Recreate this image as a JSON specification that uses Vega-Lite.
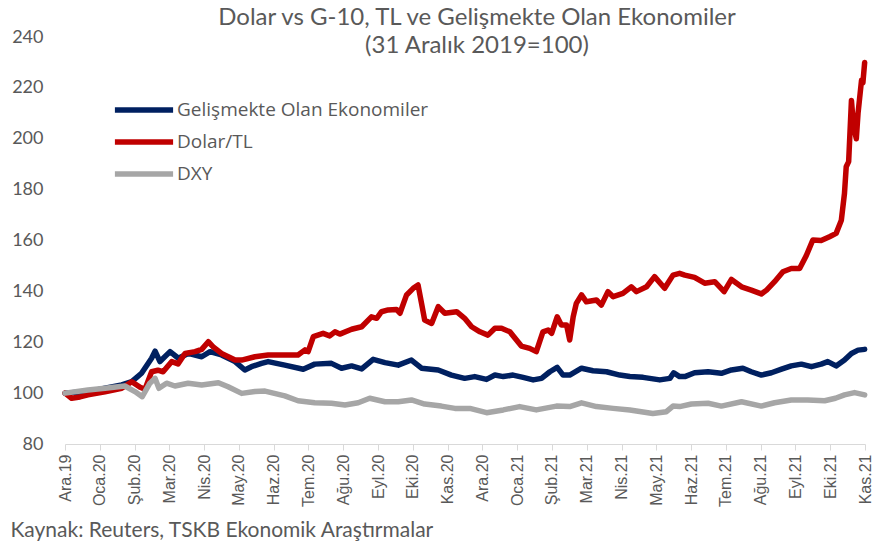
{
  "$schema": "https://vega.github.io/schema/vega-lite/v6.json",
  "width": 800,
  "height": 407,
  "autosize": {"type": "none"},
  "padding": {"left": 65, "top": 37, "right": 23, "bottom": 101},
  "background": "white",
  "config": {"view": {"stroke": null}, "font": "Lato"},
  "title": {
    "text": ["Dolar vs G-10, TL ve Gelişmekte Olan Ekonomiler", "(31 Aralık 2019=100)"],
    "font": "Lato",
    "fontSize": 24,
    "fontWeight": "normal",
    "color": "#595959",
    "anchor": "middle",
    "frame": "group",
    "lineHeight": 28,
    "dx": 12,
    "offset": -30
  },
  "datasets": {
    "rows": [
      {"s": "Gelişmekte Olan Ekonomiler", "t": 0, "v": 100},
      {"s": "Gelişmekte Olan Ekonomiler", "t": 0.66, "v": 100.6},
      {"s": "Gelişmekte Olan Ekonomiler", "t": 1.15, "v": 101.9},
      {"s": "Gelişmekte Olan Ekonomiler", "t": 1.63, "v": 103.2},
      {"s": "Gelişmekte Olan Ekonomiler", "t": 1.92, "v": 104.5},
      {"s": "Gelişmekte Olan Ekonomiler", "t": 2.2, "v": 107.8},
      {"s": "Gelişmekte Olan Ekonomiler", "t": 2.49, "v": 113.7},
      {"s": "Gelişmekte Olan Ekonomiler", "t": 2.59, "v": 116.5},
      {"s": "Gelişmekte Olan Ekonomiler", "t": 2.73, "v": 112.4},
      {"s": "Gelişmekte Olan Ekonomiler", "t": 3.02, "v": 116.3},
      {"s": "Gelişmekte Olan Ekonomiler", "t": 3.26, "v": 113.7},
      {"s": "Gelişmekte Olan Ekonomiler", "t": 3.54, "v": 115.6},
      {"s": "Gelişmekte Olan Ekonomiler", "t": 3.93, "v": 114.3},
      {"s": "Gelişmekte Olan Ekonomiler", "t": 4.17, "v": 116.3},
      {"s": "Gelişmekte Olan Ekonomiler", "t": 4.5, "v": 115},
      {"s": "Gelişmekte Olan Ekonomiler", "t": 4.89, "v": 112.4},
      {"s": "Gelişmekte Olan Ekonomiler", "t": 5.17, "v": 109.1},
      {"s": "Gelişmekte Olan Ekonomiler", "t": 5.36, "v": 110.4},
      {"s": "Gelişmekte Olan Ekonomiler", "t": 5.65, "v": 111.7},
      {"s": "Gelişmekte Olan Ekonomiler", "t": 5.84, "v": 112.4},
      {"s": "Gelişmekte Olan Ekonomiler", "t": 6.32, "v": 111},
      {"s": "Gelişmekte Olan Ekonomiler", "t": 6.85, "v": 109.4},
      {"s": "Gelişmekte Olan Ekonomiler", "t": 7.18, "v": 111.4},
      {"s": "Gelişmekte Olan Ekonomiler", "t": 7.66, "v": 111.7},
      {"s": "Gelişmekte Olan Ekonomiler", "t": 7.95, "v": 109.8},
      {"s": "Gelişmekte Olan Ekonomiler", "t": 8.24, "v": 110.7},
      {"s": "Gelişmekte Olan Ekonomiler", "t": 8.53, "v": 109.5},
      {"s": "Gelişmekte Olan Ekonomiler", "t": 8.86, "v": 113.3},
      {"s": "Gelişmekte Olan Ekonomiler", "t": 9.2, "v": 112},
      {"s": "Gelişmekte Olan Ekonomiler", "t": 9.58, "v": 111},
      {"s": "Gelişmekte Olan Ekonomiler", "t": 9.96, "v": 113},
      {"s": "Gelişmekte Olan Ekonomiler", "t": 10.25, "v": 109.8},
      {"s": "Gelişmekte Olan Ekonomiler", "t": 10.73, "v": 109.1},
      {"s": "Gelişmekte Olan Ekonomiler", "t": 11.11, "v": 107.1},
      {"s": "Gelişmekte Olan Ekonomiler", "t": 11.49, "v": 105.8},
      {"s": "Gelişmekte Olan Ekonomiler", "t": 11.78, "v": 106.5},
      {"s": "Gelişmekte Olan Ekonomiler", "t": 12.12, "v": 105.4},
      {"s": "Gelişmekte Olan Ekonomiler", "t": 12.36, "v": 107.1},
      {"s": "Gelişmekte Olan Ekonomiler", "t": 12.6, "v": 106.5},
      {"s": "Gelişmekte Olan Ekonomiler", "t": 12.88, "v": 107.1},
      {"s": "Gelişmekte Olan Ekonomiler", "t": 13.17, "v": 106.2},
      {"s": "Gelişmekte Olan Ekonomiler", "t": 13.46, "v": 105.2},
      {"s": "Gelişmekte Olan Ekonomiler", "t": 13.7, "v": 105.8},
      {"s": "Gelişmekte Olan Ekonomiler", "t": 13.94, "v": 108.4},
      {"s": "Gelişmekte Olan Ekonomiler", "t": 14.15, "v": 110.1},
      {"s": "Gelişmekte Olan Ekonomiler", "t": 14.32, "v": 107.1},
      {"s": "Gelişmekte Olan Ekonomiler", "t": 14.51, "v": 107.1},
      {"s": "Gelişmekte Olan Ekonomiler", "t": 14.85, "v": 109.8},
      {"s": "Gelişmekte Olan Ekonomiler", "t": 15.18, "v": 108.8},
      {"s": "Gelişmekte Olan Ekonomiler", "t": 15.57, "v": 108.4},
      {"s": "Gelişmekte Olan Ekonomiler", "t": 15.95, "v": 107.1},
      {"s": "Gelişmekte Olan Ekonomiler", "t": 16.24, "v": 106.5},
      {"s": "Gelişmekte Olan Ekonomiler", "t": 16.62, "v": 106.2},
      {"s": "Gelişmekte Olan Ekonomiler", "t": 17.1, "v": 105.2},
      {"s": "Gelişmekte Olan Ekonomiler", "t": 17.39, "v": 105.8},
      {"s": "Gelişmekte Olan Ekonomiler", "t": 17.5, "v": 108},
      {"s": "Gelişmekte Olan Ekonomiler", "t": 17.67, "v": 106.5},
      {"s": "Gelişmekte Olan Ekonomiler", "t": 17.82, "v": 106.5},
      {"s": "Gelişmekte Olan Ekonomiler", "t": 18.1, "v": 108},
      {"s": "Gelişmekte Olan Ekonomiler", "t": 18.49, "v": 108.4},
      {"s": "Gelişmekte Olan Ekonomiler", "t": 18.87, "v": 107.8},
      {"s": "Gelişmekte Olan Ekonomiler", "t": 19.16, "v": 109.1},
      {"s": "Gelişmekte Olan Ekonomiler", "t": 19.49, "v": 109.8},
      {"s": "Gelişmekte Olan Ekonomiler", "t": 19.73, "v": 108.4},
      {"s": "Gelişmekte Olan Ekonomiler", "t": 20.02, "v": 107.1},
      {"s": "Gelişmekte Olan Ekonomiler", "t": 20.31, "v": 108},
      {"s": "Gelişmekte Olan Ekonomiler", "t": 20.6, "v": 109.4},
      {"s": "Gelişmekte Olan Ekonomiler", "t": 20.88, "v": 110.7},
      {"s": "Gelişmekte Olan Ekonomiler", "t": 21.17, "v": 111.4},
      {"s": "Gelişmekte Olan Ekonomiler", "t": 21.46, "v": 110.4},
      {"s": "Gelişmekte Olan Ekonomiler", "t": 21.74, "v": 111.4},
      {"s": "Gelişmekte Olan Ekonomiler", "t": 21.93, "v": 112.4},
      {"s": "Gelişmekte Olan Ekonomiler", "t": 22.17, "v": 110.7},
      {"s": "Gelişmekte Olan Ekonomiler", "t": 22.41, "v": 113},
      {"s": "Gelişmekte Olan Ekonomiler", "t": 22.61, "v": 115.6},
      {"s": "Gelişmekte Olan Ekonomiler", "t": 22.8, "v": 116.9},
      {"s": "Gelişmekte Olan Ekonomiler", "t": 22.99, "v": 117.2},

      {"s": "Dolar/TL", "t": 0, "v": 100},
      {"s": "Dolar/TL", "t": 0.19, "v": 98},
      {"s": "Dolar/TL", "t": 0.43, "v": 98.5},
      {"s": "Dolar/TL", "t": 0.66, "v": 99.3},
      {"s": "Dolar/TL", "t": 1.15, "v": 100.5},
      {"s": "Dolar/TL", "t": 1.63, "v": 101.9},
      {"s": "Dolar/TL", "t": 1.92, "v": 104.5},
      {"s": "Dolar/TL", "t": 2.16, "v": 102.3},
      {"s": "Dolar/TL", "t": 2.3, "v": 101.5},
      {"s": "Dolar/TL", "t": 2.49, "v": 108.4},
      {"s": "Dolar/TL", "t": 2.67, "v": 109},
      {"s": "Dolar/TL", "t": 2.82, "v": 108.4},
      {"s": "Dolar/TL", "t": 3.07, "v": 112.4},
      {"s": "Dolar/TL", "t": 3.25, "v": 111.5},
      {"s": "Dolar/TL", "t": 3.45, "v": 115.6},
      {"s": "Dolar/TL", "t": 3.74, "v": 116.3},
      {"s": "Dolar/TL", "t": 3.93, "v": 117.2},
      {"s": "Dolar/TL", "t": 4.12, "v": 120.2},
      {"s": "Dolar/TL", "t": 4.26, "v": 118.2},
      {"s": "Dolar/TL", "t": 4.5, "v": 115.6},
      {"s": "Dolar/TL", "t": 4.89, "v": 113},
      {"s": "Dolar/TL", "t": 5.08, "v": 113},
      {"s": "Dolar/TL", "t": 5.46, "v": 114.3},
      {"s": "Dolar/TL", "t": 5.84, "v": 115},
      {"s": "Dolar/TL", "t": 6.32, "v": 115},
      {"s": "Dolar/TL", "t": 6.7, "v": 115},
      {"s": "Dolar/TL", "t": 6.9, "v": 117},
      {"s": "Dolar/TL", "t": 6.99, "v": 116.3},
      {"s": "Dolar/TL", "t": 7.14, "v": 122.2},
      {"s": "Dolar/TL", "t": 7.42, "v": 123.5},
      {"s": "Dolar/TL", "t": 7.61, "v": 122.5},
      {"s": "Dolar/TL", "t": 7.76, "v": 124.1},
      {"s": "Dolar/TL", "t": 7.9, "v": 123.2},
      {"s": "Dolar/TL", "t": 8.24, "v": 125.1},
      {"s": "Dolar/TL", "t": 8.53, "v": 126.1},
      {"s": "Dolar/TL", "t": 8.81, "v": 130},
      {"s": "Dolar/TL", "t": 8.96, "v": 129.4},
      {"s": "Dolar/TL", "t": 9.1, "v": 132},
      {"s": "Dolar/TL", "t": 9.29, "v": 132.7},
      {"s": "Dolar/TL", "t": 9.53, "v": 132.9},
      {"s": "Dolar/TL", "t": 9.63, "v": 131.4},
      {"s": "Dolar/TL", "t": 9.82, "v": 138.6},
      {"s": "Dolar/TL", "t": 10.01, "v": 141.2},
      {"s": "Dolar/TL", "t": 10.15, "v": 142.5},
      {"s": "Dolar/TL", "t": 10.25, "v": 135.3},
      {"s": "Dolar/TL", "t": 10.34, "v": 128.7},
      {"s": "Dolar/TL", "t": 10.54, "v": 127.4},
      {"s": "Dolar/TL", "t": 10.73, "v": 134},
      {"s": "Dolar/TL", "t": 10.92, "v": 131.4},
      {"s": "Dolar/TL", "t": 11.26, "v": 132},
      {"s": "Dolar/TL", "t": 11.49, "v": 129.4},
      {"s": "Dolar/TL", "t": 11.69, "v": 126.1},
      {"s": "Dolar/TL", "t": 11.93, "v": 124.1},
      {"s": "Dolar/TL", "t": 12.16, "v": 122.8},
      {"s": "Dolar/TL", "t": 12.36, "v": 125.5},
      {"s": "Dolar/TL", "t": 12.55, "v": 125.5},
      {"s": "Dolar/TL", "t": 12.79, "v": 124.1},
      {"s": "Dolar/TL", "t": 13.12, "v": 118.5},
      {"s": "Dolar/TL", "t": 13.36, "v": 117.6},
      {"s": "Dolar/TL", "t": 13.55, "v": 116.3},
      {"s": "Dolar/TL", "t": 13.74, "v": 124.1},
      {"s": "Dolar/TL", "t": 13.89, "v": 124.8},
      {"s": "Dolar/TL", "t": 13.99, "v": 123.5},
      {"s": "Dolar/TL", "t": 14.15, "v": 130},
      {"s": "Dolar/TL", "t": 14.27, "v": 126.8},
      {"s": "Dolar/TL", "t": 14.42, "v": 126.8},
      {"s": "Dolar/TL", "t": 14.51, "v": 120.9},
      {"s": "Dolar/TL", "t": 14.61, "v": 130},
      {"s": "Dolar/TL", "t": 14.7, "v": 135.3},
      {"s": "Dolar/TL", "t": 14.85, "v": 138.6},
      {"s": "Dolar/TL", "t": 14.99, "v": 135.9},
      {"s": "Dolar/TL", "t": 15.28, "v": 136.6},
      {"s": "Dolar/TL", "t": 15.42, "v": 134.6},
      {"s": "Dolar/TL", "t": 15.61, "v": 139.9},
      {"s": "Dolar/TL", "t": 15.76, "v": 137.9},
      {"s": "Dolar/TL", "t": 16.04, "v": 139.2},
      {"s": "Dolar/TL", "t": 16.28, "v": 141.8},
      {"s": "Dolar/TL", "t": 16.43, "v": 139.9},
      {"s": "Dolar/TL", "t": 16.72, "v": 141.8},
      {"s": "Dolar/TL", "t": 16.95, "v": 145.8},
      {"s": "Dolar/TL", "t": 17.24, "v": 141.2},
      {"s": "Dolar/TL", "t": 17.48, "v": 146.4},
      {"s": "Dolar/TL", "t": 17.67, "v": 147.1},
      {"s": "Dolar/TL", "t": 17.82, "v": 146.4},
      {"s": "Dolar/TL", "t": 18.1, "v": 145.5},
      {"s": "Dolar/TL", "t": 18.39, "v": 143.2},
      {"s": "Dolar/TL", "t": 18.68, "v": 143.8},
      {"s": "Dolar/TL", "t": 18.95, "v": 139.9},
      {"s": "Dolar/TL", "t": 19.16, "v": 144.7},
      {"s": "Dolar/TL", "t": 19.45, "v": 141.8},
      {"s": "Dolar/TL", "t": 19.73, "v": 140.5},
      {"s": "Dolar/TL", "t": 20.02, "v": 139},
      {"s": "Dolar/TL", "t": 20.17, "v": 140.5},
      {"s": "Dolar/TL", "t": 20.4, "v": 143.8},
      {"s": "Dolar/TL", "t": 20.64, "v": 147.7},
      {"s": "Dolar/TL", "t": 20.88, "v": 149},
      {"s": "Dolar/TL", "t": 21.12, "v": 149},
      {"s": "Dolar/TL", "t": 21.31, "v": 154},
      {"s": "Dolar/TL", "t": 21.5, "v": 160.2},
      {"s": "Dolar/TL", "t": 21.74, "v": 160},
      {"s": "Dolar/TL", "t": 21.98, "v": 161.5},
      {"s": "Dolar/TL", "t": 22.17, "v": 162.8},
      {"s": "Dolar/TL", "t": 22.32, "v": 168},
      {"s": "Dolar/TL", "t": 22.41, "v": 178.5},
      {"s": "Dolar/TL", "t": 22.46, "v": 189},
      {"s": "Dolar/TL", "t": 22.53, "v": 191},
      {"s": "Dolar/TL", "t": 22.61, "v": 215},
      {"s": "Dolar/TL", "t": 22.67, "v": 205},
      {"s": "Dolar/TL", "t": 22.75, "v": 200},
      {"s": "Dolar/TL", "t": 22.8, "v": 210},
      {"s": "Dolar/TL", "t": 22.9, "v": 223},
      {"s": "Dolar/TL", "t": 22.94, "v": 222},
      {"s": "Dolar/TL", "t": 22.99, "v": 230},

      {"s": "DXY", "t": 0, "v": 100},
      {"s": "DXY", "t": 0.66, "v": 101.2},
      {"s": "DXY", "t": 1.15, "v": 101.9},
      {"s": "DXY", "t": 1.72, "v": 102.8},
      {"s": "DXY", "t": 2.01, "v": 100.6},
      {"s": "DXY", "t": 2.22, "v": 98.6},
      {"s": "DXY", "t": 2.44, "v": 103.9},
      {"s": "DXY", "t": 2.59, "v": 105.8},
      {"s": "DXY", "t": 2.7, "v": 101.9},
      {"s": "DXY", "t": 2.92, "v": 103.9},
      {"s": "DXY", "t": 3.16, "v": 102.8},
      {"s": "DXY", "t": 3.54, "v": 103.9},
      {"s": "DXY", "t": 3.93, "v": 103.2},
      {"s": "DXY", "t": 4.41, "v": 104.1},
      {"s": "DXY", "t": 4.69, "v": 102.5},
      {"s": "DXY", "t": 5.08, "v": 99.9},
      {"s": "DXY", "t": 5.46, "v": 100.6},
      {"s": "DXY", "t": 5.75, "v": 100.8},
      {"s": "DXY", "t": 6.32, "v": 98.9},
      {"s": "DXY", "t": 6.7, "v": 97},
      {"s": "DXY", "t": 7.18, "v": 96.2},
      {"s": "DXY", "t": 7.66, "v": 96},
      {"s": "DXY", "t": 8.05, "v": 95.3},
      {"s": "DXY", "t": 8.43, "v": 96.2},
      {"s": "DXY", "t": 8.76, "v": 98},
      {"s": "DXY", "t": 9.2, "v": 96.6},
      {"s": "DXY", "t": 9.58, "v": 96.6},
      {"s": "DXY", "t": 9.96, "v": 97.3},
      {"s": "DXY", "t": 10.34, "v": 95.7},
      {"s": "DXY", "t": 10.82, "v": 94.9},
      {"s": "DXY", "t": 11.21, "v": 94},
      {"s": "DXY", "t": 11.64, "v": 94},
      {"s": "DXY", "t": 12.12, "v": 92.3},
      {"s": "DXY", "t": 12.6, "v": 93.4},
      {"s": "DXY", "t": 13.07, "v": 94.7},
      {"s": "DXY", "t": 13.55, "v": 93.4},
      {"s": "DXY", "t": 14.13, "v": 94.9},
      {"s": "DXY", "t": 14.51, "v": 94.7},
      {"s": "DXY", "t": 14.85, "v": 96.2},
      {"s": "DXY", "t": 15.28, "v": 94.7},
      {"s": "DXY", "t": 15.76, "v": 94},
      {"s": "DXY", "t": 16.24, "v": 93.4},
      {"s": "DXY", "t": 16.9, "v": 92},
      {"s": "DXY", "t": 17.29, "v": 92.7},
      {"s": "DXY", "t": 17.48, "v": 94.9},
      {"s": "DXY", "t": 17.67, "v": 94.7},
      {"s": "DXY", "t": 18.01, "v": 95.7},
      {"s": "DXY", "t": 18.49, "v": 96},
      {"s": "DXY", "t": 18.87, "v": 94.9},
      {"s": "DXY", "t": 19.45, "v": 96.6},
      {"s": "DXY", "t": 20.02, "v": 94.9},
      {"s": "DXY", "t": 20.4, "v": 96.2},
      {"s": "DXY", "t": 20.88, "v": 97.3},
      {"s": "DXY", "t": 21.35, "v": 97.3},
      {"s": "DXY", "t": 21.84, "v": 97},
      {"s": "DXY", "t": 22.15, "v": 98},
      {"s": "DXY", "t": 22.41, "v": 99.3},
      {"s": "DXY", "t": 22.7, "v": 100.2},
      {"s": "DXY", "t": 22.99, "v": 99.3}
    ]
  },
  "data": {"name": "rows"},
  "mark": {"type": "line", "strokeWidth": 5.5, "strokeCap": "round", "strokeJoin": "round"},
  "encoding": {
    "x": {
      "field": "t",
      "type": "quantitative",
      "scale": {"domain": [0, 23], "nice": false, "zero": false},
      "axis": {
        "values": [0,1,2,3,4,5,6,7,8,9,10,11,12,13,14,15,16,17,18,19,20,21,22,23],
        "labelExpr": "['Ara.19','Oca.20','Şub.20','Mar.20','Nis.20','May.20','Haz.20','Tem.20','Ağu.20','Eyl.20','Eki.20','Kas.20','Ara.20','Oca.21','Şub.21','Mar.21','Nis.21','May.21','Haz.21','Tem.21','Ağu.21','Eyl.21','Eki.21','Kas.21'][datum.value]",
        "labelAngle": -90,
        "labelAlign": "right",
        "labelBaseline": "middle",
        "labelFont": "Liberation Sans",
        "labelFontSize": 16,
        "labelColor": "#595959",
        "labelPadding": 4,
        "labelOverlap": false,
        "labelFlush": false,
        "domainColor": "#D9D9D9",
        "domainWidth": 1,
        "tickColor": "#D9D9D9",
        "tickSize": 6,
        "grid": false,
        "title": "Kaynak: Reuters, TSKB Ekonomik Araştırmalar",
        "titleAnchor": "start",
        "titleAlign": "left",
        "titleX": -55,
        "titleY": 92,
        "titleBaseline": "alphabetic",
        "titleFont": "Lato",
        "titleFontSize": 21,
        "titleFontWeight": "normal",
        "titleColor": "#595959"
      }
    },
    "y": {
      "field": "v",
      "type": "quantitative",
      "scale": {"domain": [80, 240], "nice": false, "zero": false},
      "axis": {
        "values": [80,100,120,140,160,180,200,220,240],
        "domain": false,
        "ticks": false,
        "grid": false,
        "labelPadding": 22,
        "labelFont": "Lato",
        "labelFontSize": 18,
        "labelColor": "#595959",
        "title": null
      }
    },
    "color": {
      "field": "s",
      "type": "nominal",
      "sort": ["Gelişmekte Olan Ekonomiler", "Dolar/TL", "DXY"],
      "scale": {"domain": ["Gelişmekte Olan Ekonomiler", "Dolar/TL", "DXY"], "range": ["#002060", "#C00000", "#A6A6A6"]},
      "legend": {
        "orient": "none",
        "legendX": 60,
        "legendY": 54,
        "title": null,
        "symbolType": "M-1.8,0L1.8,0",
        "symbolSize": 1045,
        "symbolStrokeWidth": 5.5,
        "labelFont": "Open Sans",
        "labelFontSize": 19,
        "labelLimit": 400,
        "labelColor": "#595959",
        "labelOffset": 14
      }
    }
  }
}
